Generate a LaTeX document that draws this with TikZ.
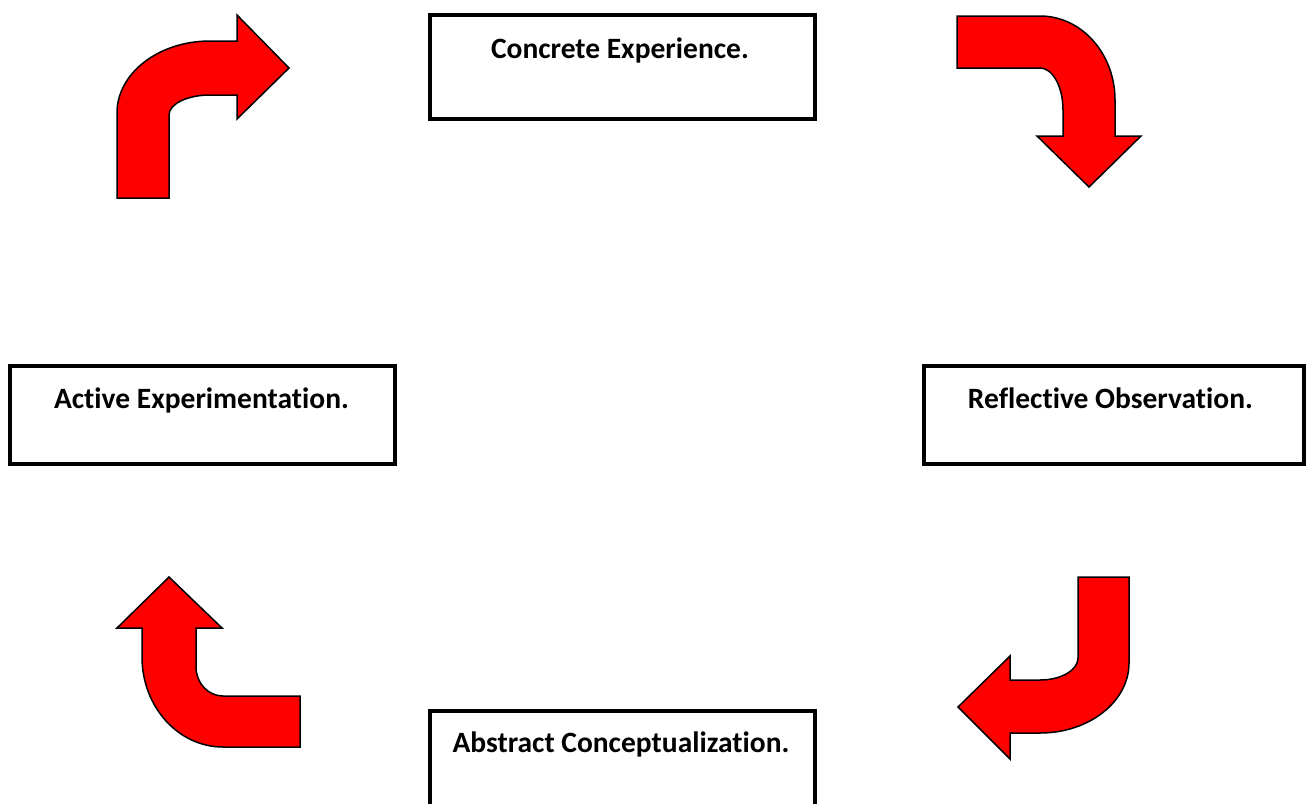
\documentclass[tikz,border=0pt]{standalone}
\usepackage{fontspec}
\setmainfont{Carlito}[Ligatures={NoCommon}]
\begin{document}
\begin{tikzpicture}[x=1pt,y=-1pt,
  stagebox/.style={draw=black,line width=4pt,fill=white,inner sep=0pt},
  stagetext/.style={font=\bfseries\fontsize{29.5}{34}\selectfont,inner sep=0pt,anchor=base},
  bentarrow/.style={fill=red,draw=black,line width=1.5pt,line join=miter}]
\useasboundingbox (0,0) rectangle (1306,803);
\clip (0,0) rectangle (1306,803);

% stage boxes
\node[stagebox,minimum width=385pt,minimum height=104pt] (ce) at (622.5,67) {};
\node[stagebox,minimum width=380pt,minimum height=98pt] (ro) at (1114,415) {};
\node[stagebox,minimum width=385pt,minimum height=98pt] (ae) at (202.5,415) {};
\node[stagebox,minimum width=385pt,minimum height=140pt] (ac) at (622.5,781) {};

% stage labels
\node[stagetext] (tce) at (620,58) {Concrete Experience.};
\node[stagetext] (tro) at (1110.5,408) {Reflective Observation.};
\node[stagetext] (tae) at (201.5,408) {Active Experimentation.};
\node[stagetext] (tac) at (621,752) {Abstract Conceptualization.};

% top left: up, then right
\draw[bentarrow] (117,198) -- (117,113)
  arc[start angle=180,end angle=270,x radius=93,y radius=72]
  -- (237,41) -- (237,15) -- (289,68) -- (237,119) -- (237,95) -- (210,95)
  arc[start angle=270,end angle=180,x radius=41,y radius=20]
  -- (169,198) -- cycle;

% top right: right, then down
\draw[bentarrow] (957,16) -- (1040,16)
  arc[start angle=270,end angle=360,x radius=75,y radius=84]
  -- (1115,136) -- (1141,136) -- (1089,187) -- (1037,136) -- (1063,136) -- (1063,110)
  arc[start angle=0,end angle=-90,x radius=23,y radius=42]
  -- (957,68) -- cycle;

% bottom right: down, then left
\draw[bentarrow] (1078,577) -- (1129,577) -- (1129,663)
  arc[start angle=0,end angle=90,x radius=89,y radius=70]
  -- (1010,733) -- (1010,759) -- (958,707) -- (1010,656) -- (1010,680) -- (1040,680)
  arc[start angle=90,end angle=0,x radius=38,y radius=22]
  -- cycle;

% bottom left: left, then up
\draw[bentarrow] (169,577) -- (222,628) -- (196,628) -- (196,667)
  arc[start angle=180,end angle=90,x radius=27,y radius=29]
  -- (300,696) -- (300,747) -- (223,747)
  arc[start angle=90,end angle=180,x radius=81,y radius=90]
  -- (142,628) -- (117,628) -- cycle;
\end{tikzpicture}
\end{document}
